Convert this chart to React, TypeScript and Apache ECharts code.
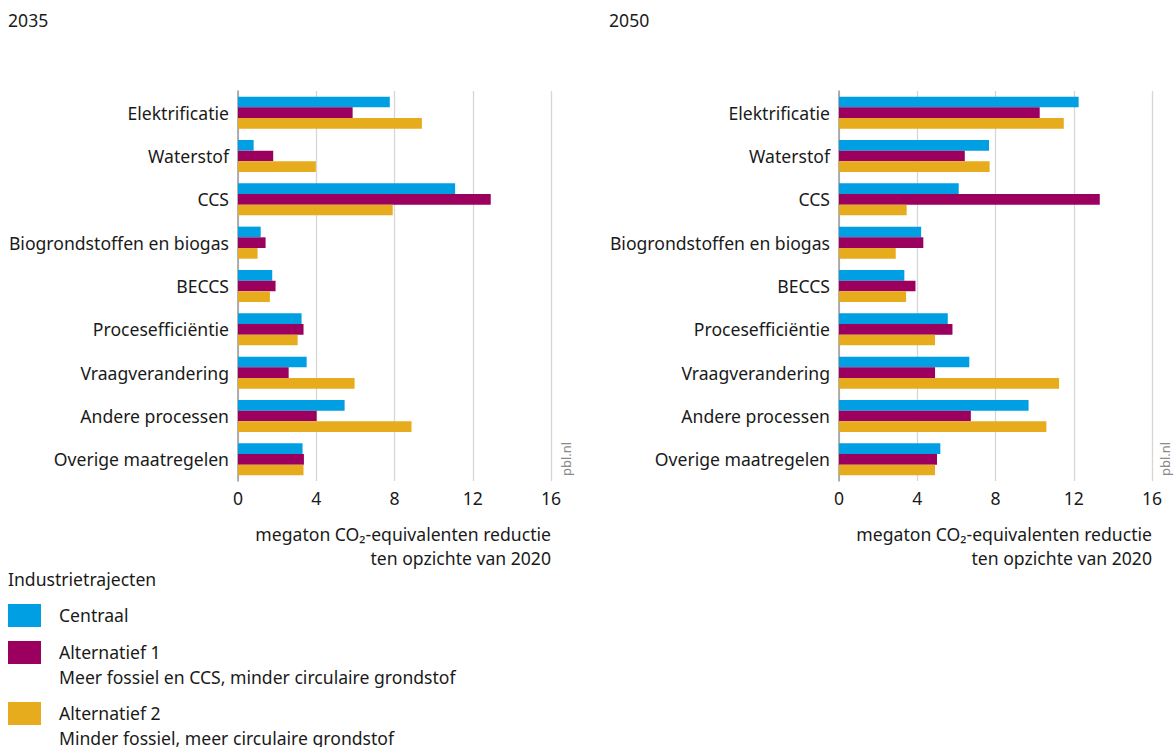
import React, { useEffect, useRef } from "react";
import * as echarts from "echarts";

const categories = [
  "Elektrificatie",
  "Waterstof",
  "CCS",
  "Biogrondstoffen en biogas",
  "BECCS",
  "Procesefficiëntie",
  "Vraagverandering",
  "Andere processen",
  "Overige maatregelen",
];

const centraal2035 = [7.76, 0.8, 11.1, 1.16, 1.75, 3.25, 3.51, 5.45, 3.3];
const alt1_2035 = [5.86, 1.8, 12.92, 1.41, 1.92, 3.35, 2.59, 4.02, 3.37];
const alt2_2035 = [9.4, 3.98, 7.91, 1.0, 1.63, 3.05, 5.96, 8.87, 3.35];

const centraal2050 = [12.25, 7.67, 6.12, 4.2, 3.34, 5.56, 6.66, 9.69, 5.18];
const alt1_2050 = [10.26, 6.43, 13.33, 4.31, 3.91, 5.8, 4.91, 6.74, 5.01];
const alt2_2050 = [11.49, 7.7, 3.46, 2.9, 3.43, 4.91, 11.25, 10.6, 4.91];

const xTicks = [0, 4, 8, 12, 16];
const seriesNames = ["Centraal", "Alternatief 1", "Alternatief 2"];
const colors = ["#009fe3", "#9b005f", "#e6ac1e"];

const FONT = "Noto Sans";
const FS = 17.6;
const TEXT = "#1a1a1a";

export default function App() {
  const ref = useRef<HTMLDivElement>(null);
  useEffect(() => {
    if (!ref.current) return;
    const chart = echarts.init(ref.current, undefined, { renderer: "svg" });
    const grids = [
      { left: 238, top: 91, width: 313, height: 390 },
      { left: 839, top: 91, width: 313, height: 390 },
    ];
    const xAxes = grids.map((_, i) => ({
      type: "value",
      gridIndex: i,
      min: xTicks[0],
      max: xTicks[xTicks.length - 1],
      interval: 4,
      axisLine: { show: false },
      axisTick: { show: false },
      splitLine: { show: true, lineStyle: { color: "#d6d6d6", width: 1.3 } },
      axisLabel: { color: TEXT, fontSize: FS, fontFamily: FONT, margin: 8 },
    }));
    const yAxes = grids.map((_, i) => ({
      type: "category",
      gridIndex: i,
      data: categories,
      inverse: true,
      axisLine: { show: true, lineStyle: { color: "#9a9a9a", width: 1.5 } },
      axisTick: { show: false },
      axisLabel: { color: TEXT, fontSize: FS, fontFamily: FONT, margin: 9 },
    }));
    const data2035 = [centraal2035, alt1_2035, alt2_2035];
    const data2050 = [centraal2050, alt1_2050, alt2_2050];
    const series: any[] = [];
    [data2035, data2050].forEach((set, gi) => {
      set.forEach((vals, si) => {
        series.push({
          type: "bar",
          name: seriesNames[si],
          xAxisIndex: gi,
          yAxisIndex: gi,
          data: vals,
          barGap: "0%",
          barCategoryGap: "26%",
          itemStyle: { color: colors[si] },
        });
      });
    });

    const axisNameTexts = (right: number) => [
      {
        type: "text",
        right: 1174 - right,
        top: 525,
        style: {
          text: "megaton CO₂-equivalenten reductie",
          fill: TEXT,
          font: `${FS}px "${FONT}"`,
          textAlign: "right",
        },
      },
      {
        type: "text",
        right: 1174 - right,
        top: 549,
        style: {
          text: "ten opzichte van 2020",
          fill: TEXT,
          font: `${FS}px "${FONT}"`,
          textAlign: "right",
        },
      },
    ];

    const pbl = (x: number) => ({
      type: "text",
      x: x,
      y: 476,
      rotation: Math.PI / 2,
      style: {
        text: "pbl.nl",
        fill: "#8a8a8a",
        font: `13px "${FONT}"`,
        textAlign: "left",
        textVerticalAlign: "middle",
      },
    });

    const legendItems = [
      { y: 604, lines: ["Centraal"] },
      { y: 641, lines: ["Alternatief 1", "Meer fossiel en CCS, minder circulaire grondstof"] },
      { y: 702, lines: ["Alternatief 2", "Minder fossiel, meer circulaire grondstof"] },
    ];
    const legendGraphics: any[] = [
      {
        type: "text",
        x: 8,
        y: 579,
        style: {
          text: "Industrietrajecten",
          fill: TEXT,
          font: `${FS}px "${FONT}"`,
          textVerticalAlign: "middle",
        },
      },
    ];
    legendItems.forEach((it, i) => {
      legendGraphics.push({
        type: "rect",
        shape: { x: 8, y: it.y, width: 33, height: 23 },
        style: { fill: colors[i] },
      });
      it.lines.forEach((ln, li) => {
        legendGraphics.push({
          type: "text",
          x: 59,
          y: it.y + 11 + li * 25,
          style: {
            text: ln,
            fill: TEXT,
            font: `${FS}px "${FONT}"`,
            textVerticalAlign: "middle",
          },
        });
      });
    });

    chart.setOption({
      animation: false,
      backgroundColor: "#ffffff",
      grid: grids,
      xAxis: xAxes,
      yAxis: yAxes,
      series,
      graphic: [
        {
          type: "text",
          x: 8,
          y: 20,
          style: { text: "2035", fill: TEXT, font: `${FS}px "${FONT}"`, textVerticalAlign: "middle" },
        },
        {
          type: "text",
          x: 609,
          y: 20,
          style: { text: "2050", fill: TEXT, font: `${FS}px "${FONT}"`, textVerticalAlign: "middle" },
        },
        ...axisNameTexts(551),
        ...axisNameTexts(1152),
        pbl(566),
        pbl(1165),
        ...legendGraphics,
      ],
    });
    return () => chart.dispose();
  }, []);
  return (
    <div
      ref={ref}
      style={{ position: "fixed", left: 0, top: 0, width: 1174, height: 747 }}
    />
  );
}
